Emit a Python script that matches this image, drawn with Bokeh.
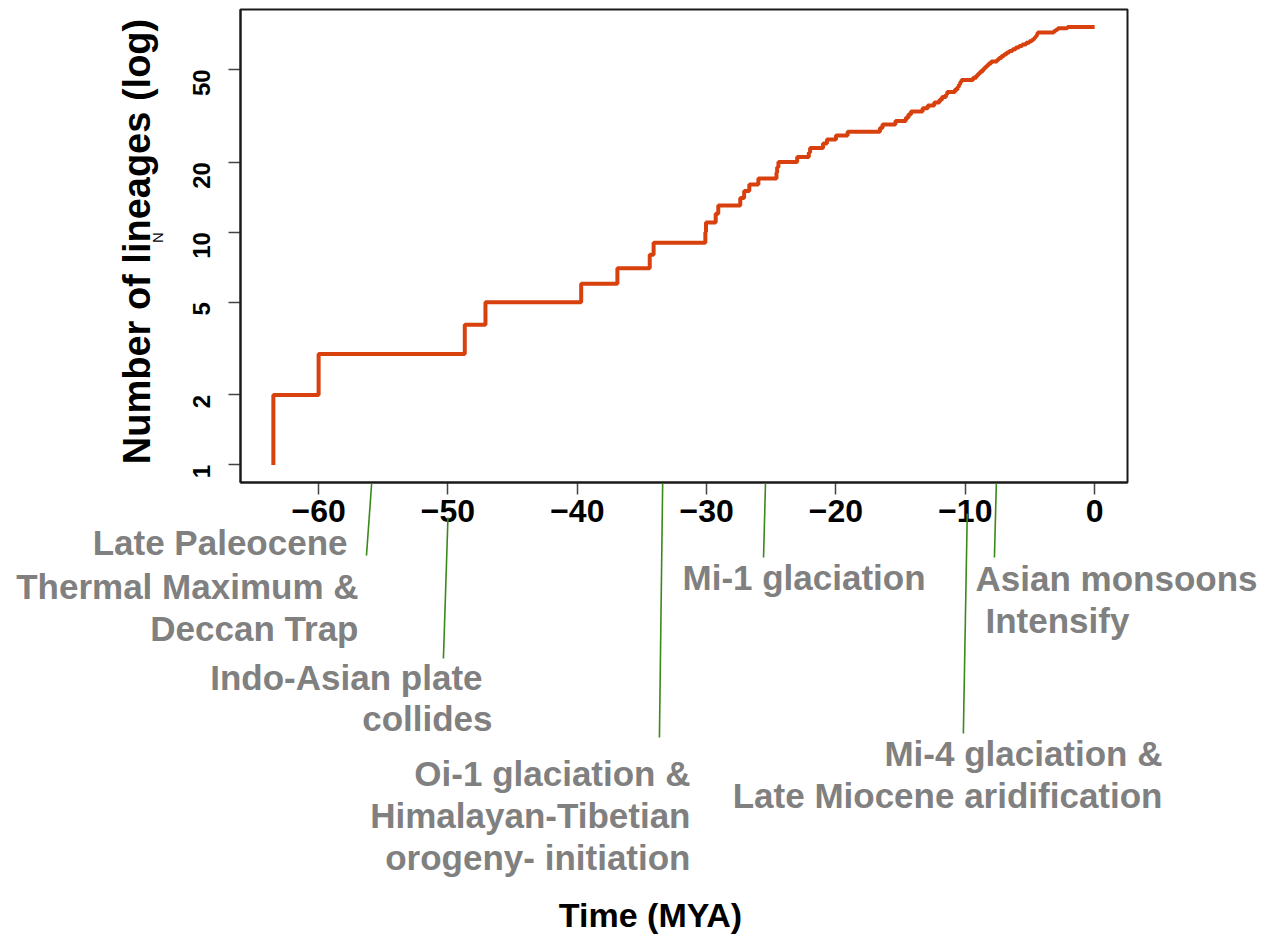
import math
from bokeh.plotting import figure
from bokeh.models import Range1d, FixedTicker, Label, PolyAnnotation, BoxAnnotation, BasicTickFormatter
from bokeh.embed import file_html
from bokeh.resources import INLINE

# ---------------- data ----------------
times = [
    -63.5, -63.5, -60.0, -48.7, -47.1, -39.7, -36.9, -34.4, -34.1,
    -30.1, -30.05, -29.3, -29.1, -27.4, -27.1, -26.7, -26.0, -24.6, -24.55, -24.45,
    -23.0, -22.1, -22.0, -21.0, -20.7, -20.0, -19.1, -16.6, -16.4, -15.4,
    -14.6, -14.4, -14.2, -13.3, -12.9, -12.4, -12.0, -11.8, -11.5, -11.4,
    -10.8, -10.6, -10.5, -10.4, -10.3, -9.4, -9.15, -9.0, -8.85, -8.65,
    -8.5, -8.35, -8.2, -8.0, -7.55, -7.4, -7.2, -7.0, -6.8, -6.6,
    -6.35, -6.1, -5.85, -5.6, -5.3, -5.05, -4.85, -4.7, -4.6, -4.5,
    -4.45, -4.4, -3.15, -3.0, -2.85, -2.1, 0.0,
]
lineages = [
    1, 2, 3, 4, 5, 6, 7, 8, 9,
    10, 11, 12, 13, 14, 15, 16, 17, 18, 19, 20,
    21, 22, 23, 24, 25, 26, 27, 28, 29, 30,
    31, 32, 33, 34, 35, 36, 37, 38, 39, 40,
    41, 42, 43, 44, 45, 46, 47, 48, 49, 50,
    51, 52, 53, 54, 55, 56, 57, 58, 59, 60,
    61, 62, 63, 64, 65, 66, 67, 68, 69, 70,
    71, 72, 73, 74, 75, 76, 76,
]
x_ticks = [-60, -50, -40, -30, -20, -10, 0]
y_ticks = [1, 2, 5, 10, 20, 50]

# geological events (MYA): hand-drawn marker lines, top and bottom ends
event_time_top = [-55.9, -50.0, -33.4, -25.45, -9.85, -7.6]
event_time_bottom = [-56.3, -50.35, -33.65, -25.6, -10.15, -7.75]

event_text = [
    "Late Paleocene", "Thermal Maximum &", "Deccan Trap",
    "Indo-Asian plate", "collides",
    "Oi-1 glaciation &", "Himalayan-Tibetian", "orogeny- initiation",
    "Mi-1 glaciation",
    "Asian monsoons", "Intensify",
    "Mi-4 glaciation &", "Late Miocene aridification",
]
x_title = "Time (MYA)"
y_title = "Number of lineages (log)"

# ---------------- layout / style ----------------
W, H = 1265, 940                      # canvas size
BOX_L, BOX_R, BOX_T, BOX_B = 240, 1127, 9, 482   # plot box in canvas pixels

FONT = "Liberation Sans"
GRAY = "#808080"
GREEN = "#3A8A1A"
RED = "#D8400E"
DARK = "#1a1a1a"

# marker line vertical extent (canvas px, top-down)
line_top_py = [483, 517, 483, 483, 513, 483]
line_bottom_py = [555, 658, 737, 557, 733, 557]

# text anchors (canvas px, top-down) and alignment
text_pos = [
    (347, 542, "right"), (358, 586, "right"), (358, 628, "right"),
    (482, 677, "right"), (492, 718, "right"),
    (690, 773, "right"), (690, 815, "right"), (690, 857, "right"),
    (682, 577, "left"),
    (975, 578, "left"), (985, 620, "left"),
    (1162, 753, "right"), (1162, 795, "right"),
]

# R-style 4% padding of the data range -> plot box limits
xmin, xmax = min(times), max(times)
xpad = 0.04 * (xmax - xmin)
bx0, bx1 = xmin - xpad, xmax + xpad
lo, hi = math.log10(min(lineages)), math.log10(max(lineages))
ypad = 0.04 * (hi - lo)
bl0, bl1 = lo - ypad, hi + ypad

# extend the ranges so that the plot box sits at BOX_* inside a full-canvas frame
kx = (BOX_R - BOX_L) / (bx1 - bx0)
ky = (BOX_B - BOX_T) / (bl1 - bl0)
x_range = Range1d(bx0 - BOX_L / kx, bx1 + (W - BOX_R) / kx)
y_range = Range1d(10 ** (bl0 - (H - BOX_B) / ky), 10 ** (bl1 + BOX_T / ky))

p = figure(
    frame_width=W, frame_height=H,
    min_border_left=0, min_border_right=0, min_border_top=0, min_border_bottom=0,
    x_range=x_range, y_range=y_range, y_axis_type="log",
    output_backend="svg", toolbar_location=None,
    background_fill_color="white", border_fill_color="white",
)
p.xgrid.visible = False
p.ygrid.visible = False
p.outline_line_color = None

# plot box
p.add_layout(BoxAnnotation(left=bx0, right=bx1, bottom=10 ** bl0, top=10 ** bl1,
                           fill_alpha=0, line_color=DARK, line_alpha=1.0, line_width=2))

p.step(times, lineages, mode="after", line_color=RED, line_width=4)

# x axis, pinned to the bottom of the plot box
xa = p.xaxis[0]
xa.fixed_location = 10 ** bl0
xa.bounds = (bx0, bx1)
xa.ticker = FixedTicker(ticks=x_ticks)
xa.major_label_overrides = {t: str(t).replace("-", "\u2212") for t in x_ticks}
xa.major_label_text_font = FONT
xa.major_label_text_font_size = "32px"
xa.major_label_text_font_style = "bold"
xa.major_label_text_color = "black"
xa.major_label_standoff = 5
xa.major_tick_out = 12
xa.major_tick_in = 0
xa.minor_tick_out = 0
xa.minor_tick_in = 0
xa.major_tick_line_color = "#444444"
xa.major_tick_line_width = 1.5
xa.axis_line_color = DARK
xa.axis_line_width = 2

# y axis, pinned to the left of the plot box
ya = p.yaxis[0]
ya.fixed_location = bx0
ya.bounds = (10 ** bl0, 10 ** bl1)
ya.ticker = FixedTicker(ticks=y_ticks)
ya.formatter = BasicTickFormatter()
ya.major_label_overrides = {t: str(t) for t in y_ticks}
ya.major_label_orientation = math.pi / 2
ya.major_label_text_font = FONT
ya.major_label_text_font_size = "24px"
ya.major_label_text_font_style = "bold"
ya.major_label_text_color = "black"
ya.major_label_standoff = 27
ya.major_tick_out = 12
ya.major_tick_in = 0
ya.minor_tick_out = 0
ya.minor_tick_in = 0
ya.major_tick_line_color = "#444444"
ya.major_tick_line_width = 1.5
ya.axis_line_color = DARK
ya.axis_line_width = 2


def label(text, px, py, align="center", size="35px", color=GRAY, angle=0.0, style="bold"):
    p.add_layout(Label(x=px, y=H - py, x_units="screen", y_units="screen", text=text,
                       angle=angle, text_align=align, text_baseline="middle",
                       text_font=FONT, text_font_size=size, text_font_style=style,
                       text_color=color))


# axis titles
label(y_title, 136, 241, size="38px", color="black", angle=math.pi / 2)
label(x_title, 650, 914, size="34px", color="black")
# stray "N" glyph next to the y title
label("N", 157, 237, size="15px", color="black", angle=math.pi / 2, style="normal")

# event marker lines
for t0, t1, y0, y1 in zip(event_time_top, event_time_bottom, line_top_py, line_bottom_py):
    p.add_layout(PolyAnnotation(xs=[t0, t1], ys=[H - y0, H - y1], xs_units="data", ys_units="screen",
                                fill_alpha=0, line_color=GREEN, line_alpha=1.0, line_width=1.6))

# event texts
for txt, (tx, ty, al) in zip(event_text, text_pos):
    label(txt, tx, ty, align=al)

open("out.html", "w").write(file_html(p, INLINE, title="Lineages through time"))
